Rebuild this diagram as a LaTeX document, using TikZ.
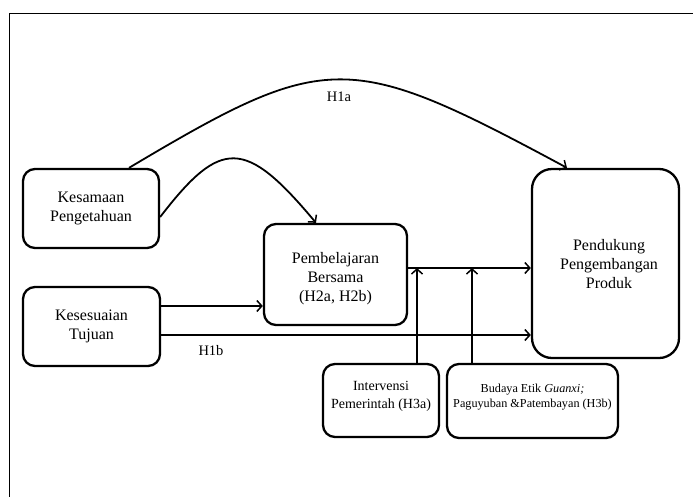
\documentclass[tikz,border=0pt]{standalone}
\usepackage{fontspec}
\setmainfont{Liberation Serif}
\usetikzlibrary{arrows.meta,calc}
\begin{document}
\begin{tikzpicture}[x=1pt,y=-1pt,
  box/.style={draw,line width=2.3pt,rounded corners=12pt,align=center,inner sep=2pt},
  big/.style={font=\fontsize{16}{19}\selectfont},
  mid/.style={font=\fontsize{14}{17.7}\selectfont},
  sml/.style={font=\fontsize{12.2}{15}\selectfont},
  lbl/.style={font=\fontsize{14.5}{17}\selectfont},
  arr/.style={line width=1.8pt,-{Straight Barb[length=5pt,width=11pt,line width=1.5pt]}},
  ln/.style={line width=1.8pt}]
\useasboundingbox (0,0) rectangle (693,496);
\draw[line width=1pt] (9,13) rectangle (705,510);
% nodes
\node[box,big,minimum width=136pt,minimum height=79pt] (ks) at (91,208.5) {Kesamaan\\Pengetahuan};
\node[box,big,minimum width=137pt,minimum height=79pt] (kt) at (91.5,326.5) {Kesesuaian\\Tujuan};
\node[box,big,minimum width=143pt,minimum height=101pt] (pb) at (335.5,274.5) {};
\node[big,align=center] (pbt) at (335.5,279) {Pembelajaran\\Bersama\\(H2a, H2b)};
\node[box,big,rounded corners=20pt,minimum width=147pt,minimum height=189pt] (pd) at (605.5,263.5) {};
\node[big,align=center] (pdt) at (609,264) {Pendukung\\Pengembangan\\Produk};
\node[box,minimum width=116pt,minimum height=73pt] (iv) at (381,400.5) {};
\node[mid,align=center] (ivt) at (381,396) {Intervensi\\Pemerintah (H3a)};
\node[box,minimum width=171pt,minimum height=74pt] (bd) at (532.5,401) {};
\node[sml,align=center] (bdt) at (532.5,397.5) {Budaya Etik \textit{Guanxi;}\\Paguyuban \&Patembayan (H3b)};
% helper coordinates
\coordinate (y306) at (0,306);
\coordinate (y335) at (0,335);
\coordinate (y268) at (0,268);
\coordinate (x417) at (417,0);
\coordinate (x472) at (472,0);
\coordinate (x129) at (129,0);
\coordinate (x567) at (567,0);
\coordinate (x316) at (316,0);
\coordinate (y217) at (0,217);
\coordinate (m1) at (x417 |- y268);
\coordinate (m2) at (x472 |- y268);
% edges
\draw[arr] (ks.north -| x129) .. controls (327,50) and (348,50) .. (pd.north -| x567);
\node[lbl] (h1a) at (339,97) {H1a};
\draw[arr] (ks.east |- y217) .. controls (221,138) and (245,138) .. (pb.north -| x316);
\draw[arr] (kt.east |- y306) -- (pb.west |- y306);
\draw[arr] (kt.east |- y335) -- (pd.west |- y335);
\node[lbl] (h1b) at (211,351) {H1b};
\draw[arr] (pb.east |- y268) -- (pd.west |- y268);
\draw[arr] (iv.north -| x417) -- (m1);
\draw[arr] (bd.north -| x472) -- (m2);
\end{tikzpicture}
\end{document}
